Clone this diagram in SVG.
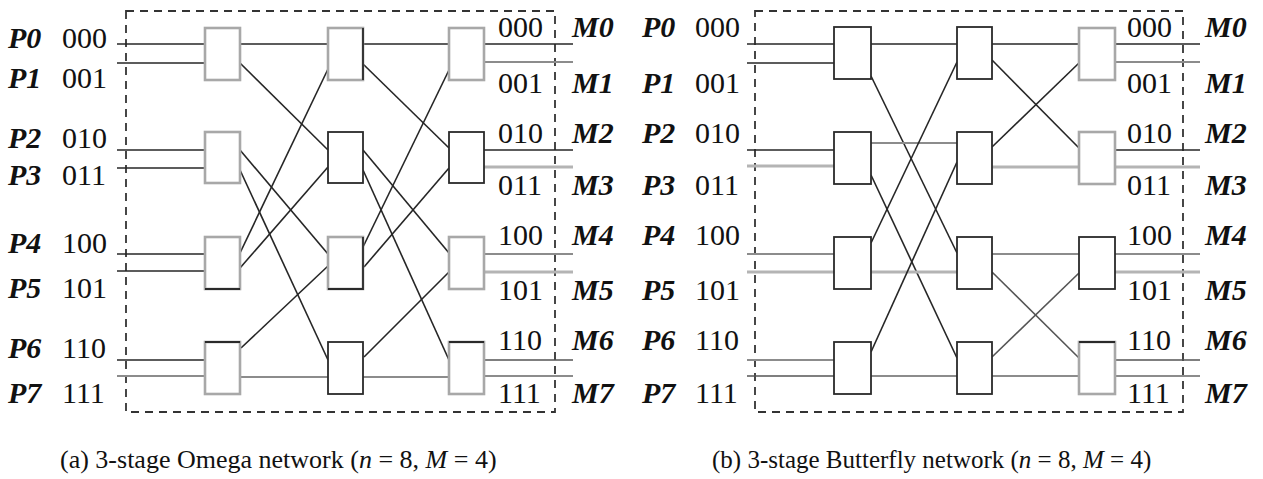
<svg xmlns="http://www.w3.org/2000/svg" width="1263" height="479" viewBox="0 0 1263 479">
  <style>
    .frame { fill: none; stroke: #333; stroke-width: 1.8; stroke-dasharray: 8 6; }
    .w  { stroke: #262626; stroke-width: 1.6; fill: none; }
    .wd { stroke: #555; stroke-width: 1.6; fill: none; }
    .g1 { stroke: #8c8c8c; stroke-width: 1.9; fill: none; }
    .g2 { stroke: #b4b4b4; stroke-width: 3; fill: none; }
    .sw  { fill: #fff; stroke: #2a2a2a; stroke-width: 1.8; }
    .swg { fill: #fff; stroke: #a8a8a8; stroke-width: 2.6; }
    .edge { stroke: #2a2a2a; stroke-width: 1.8; }
    .lbl { font-family: "Liberation Serif", "Times New Roman", serif; font-size: 30px; fill: #111; }
    .id  { font-weight: bold; font-style: italic; }
    .cap { font-family: "Liberation Serif", "Times New Roman", serif; font-size: 26px; fill: #111; }
    .capb { font-size: 25px; }
  </style>

  <!-- (a) Omega network -->
  <g id="omega">
    <rect id="omega-frame" class="frame" x="126" y="11" width="429" height="401"/>

    <g id="omega-connectors">
      <!-- processor inputs -->
      <line class="w"  x1="117" y1="44"  x2="205" y2="44"/>
      <line class="w"  x1="117" y1="63"  x2="205" y2="63"/>
      <line class="w"  x1="117" y1="150" x2="205" y2="150"/>
      <line class="w"  x1="117" y1="168" x2="205" y2="168"/>
      <line class="w"  x1="117" y1="254" x2="205" y2="254"/>
      <line class="w"  x1="117" y1="271" x2="205" y2="271"/>
      <line class="w"  x1="117" y1="360" x2="205" y2="360"/>
      <line class="g1" x1="117" y1="376" x2="205" y2="376"/>
      <!-- shuffle: stage 1 to stage 2 -->
      <line class="w"  x1="240" y1="44"  x2="328" y2="44"/>
      <line class="w"  x1="240" y1="63"  x2="328" y2="150"/>
      <line class="w"  x1="240" y1="150" x2="328" y2="254"/>
      <line class="w"  x1="240" y1="170" x2="328" y2="360"/>
      <line class="w"  x1="240" y1="253" x2="328" y2="69"/>
      <line class="w"  x1="240" y1="268" x2="328" y2="167"/>
      <line class="w"  x1="241" y1="348" x2="328" y2="266"/>
      <line class="g1" x1="240" y1="377" x2="328" y2="377"/>
      <!-- shuffle: stage 2 to stage 3 -->
      <line class="w"  x1="363" y1="44"  x2="449" y2="44"/>
      <line class="w"  x1="363" y1="64"  x2="449" y2="148"/>
      <line class="w"  x1="363" y1="150" x2="449" y2="253"/>
      <line class="w"  x1="363" y1="170" x2="449" y2="360"/>
      <line class="w"  x1="363" y1="247" x2="449" y2="70"/>
      <line class="w"  x1="364" y1="267" x2="449" y2="168"/>
      <line class="w"  x1="364" y1="357" x2="449" y2="272"/>
      <line class="g1" x1="363" y1="377" x2="449" y2="377"/>
      <!-- memory outputs -->
      <line class="w"  x1="484" y1="44"  x2="573" y2="44"/>
      <line class="g1" x1="484" y1="62"  x2="573" y2="62"/>
      <line class="w"  x1="484" y1="150" x2="573" y2="150"/>
      <line class="g2" x1="484" y1="167" x2="573" y2="167"/>
      <line class="g1" x1="484" y1="254" x2="573" y2="254"/>
      <line class="g2" x1="484" y1="272" x2="573" y2="272"/>
      <line class="wd" x1="484" y1="360" x2="573" y2="360"/>
      <line class="g1" x1="484" y1="376" x2="573" y2="376"/>
    </g>

    <!-- stage 1 -->
    <g id="omega-s1-0"><rect class="swg" x="205" y="28" width="35" height="52"/></g>
    <g id="omega-s1-1"><rect class="swg" x="205" y="132" width="35" height="51"/></g>
    <g id="omega-s1-2"><rect class="swg" x="205" y="237" width="35" height="52"/><line class="edge" x1="205" y1="289" x2="240" y2="289"/></g>
    <g id="omega-s1-3"><rect class="swg" x="205" y="342" width="35" height="52"/><line class="edge" x1="205" y1="342" x2="240" y2="342"/></g>
    <!-- stage 2 -->
    <g id="omega-s2-0"><rect class="swg" x="328" y="28" width="35" height="52"/><line class="edge" x1="363" y1="28" x2="363" y2="80"/></g>
    <g id="omega-s2-1"><rect class="sw" x="328" y="132" width="35" height="51"/></g>
    <g id="omega-s2-2"><rect class="swg" x="328" y="237" width="35" height="52"/><polyline class="edge" fill="none" points="363,237 363,289 328,289"/></g>
    <g id="omega-s2-3"><rect class="sw" x="328" y="342" width="35" height="52"/></g>
    <!-- stage 3 -->
    <g id="omega-s3-0"><rect class="swg" x="449" y="28" width="35" height="52"/></g>
    <g id="omega-s3-1"><rect class="sw" x="449" y="132" width="35" height="51"/></g>
    <g id="omega-s3-2"><rect class="swg" x="449" y="237" width="35" height="52"/></g>
    <g id="omega-s3-3"><rect class="swg" x="449" y="342" width="35" height="52"/><line class="edge" x1="449" y1="342" x2="484" y2="342"/></g>

    <g id="omega-inputs" class="lbl">
      <text x="8" y="48"><tspan class="id">P0</tspan><tspan x="62">000</tspan></text>
      <text x="8" y="88"><tspan class="id">P1</tspan><tspan x="62">001</tspan></text>
      <text x="8" y="148"><tspan class="id">P2</tspan><tspan x="62">010</tspan></text>
      <text x="8" y="185"><tspan class="id">P3</tspan><tspan x="62">011</tspan></text>
      <text x="8" y="253"><tspan class="id">P4</tspan><tspan x="62">100</tspan></text>
      <text x="8" y="298"><tspan class="id">P5</tspan><tspan x="62">101</tspan></text>
      <text x="8" y="358"><tspan class="id">P6</tspan><tspan x="62">110</tspan></text>
      <text x="8" y="403"><tspan class="id">P7</tspan><tspan x="62">111</tspan></text>
    </g>
    <g id="omega-outputs" class="lbl">
      <text x="498" y="37">000<tspan class="id" x="572">M0</tspan></text>
      <text x="498" y="93">001<tspan class="id" x="572">M1</tspan></text>
      <text x="498" y="143">010<tspan class="id" x="572">M2</tspan></text>
      <text x="498" y="195">011<tspan class="id" x="572">M3</tspan></text>
      <text x="498" y="245">100<tspan class="id" x="572">M4</tspan></text>
      <text x="498" y="300">101<tspan class="id" x="572">M5</tspan></text>
      <text x="498" y="350">110<tspan class="id" x="572">M6</tspan></text>
      <text x="498" y="403">111<tspan class="id" x="572">M7</tspan></text>
    </g>
    <text id="omega-caption" class="cap" x="60" y="468">(a) 3-stage Omega network (<tspan font-style="italic">n</tspan> = 8, <tspan font-style="italic">M</tspan> = 4)</text>
  </g>

  <!-- (b) Butterfly network -->
  <g id="butterfly">
    <rect id="butterfly-frame" class="frame" x="755" y="11" width="428" height="401"/>

    <g id="butterfly-connectors">
      <!-- processor inputs -->
      <line class="w"  x1="747" y1="44"  x2="834" y2="44"/>
      <line class="w"  x1="747" y1="63"  x2="834" y2="63"/>
      <line class="w"  x1="747" y1="150" x2="834" y2="150"/>
      <line class="g2" x1="747" y1="166" x2="834" y2="166"/>
      <line class="g1" x1="747" y1="254" x2="834" y2="254"/>
      <line class="g2" x1="747" y1="272" x2="834" y2="272"/>
      <line class="g1" x1="747" y1="360" x2="834" y2="360"/>
      <line class="wd" x1="747" y1="376" x2="834" y2="376"/>
      <!-- butterfly: stage 1 to stage 2 -->
      <line class="w"  x1="871" y1="44"  x2="957" y2="44"/>
      <line class="w"  x1="871" y1="76"  x2="957" y2="253"/>
      <line class="g1" x1="871" y1="143" x2="957" y2="143"/>
      <line class="w"  x1="871" y1="175" x2="957" y2="358"/>
      <line class="w"  x1="871" y1="243" x2="957" y2="62"/>
      <line class="g2" x1="871" y1="272" x2="957" y2="272"/>
      <line class="w"  x1="871" y1="352" x2="957" y2="162"/>
      <line class="g1" x1="871" y1="376" x2="957" y2="376"/>
      <!-- butterfly: stage 2 to stage 3 -->
      <line class="w"  x1="992" y1="44"  x2="1079" y2="44"/>
      <line class="w"  x1="992" y1="60"  x2="1079" y2="148"/>
      <line class="w"  x1="992" y1="147" x2="1079" y2="63"/>
      <line class="g2" x1="992" y1="167" x2="1079" y2="167"/>
      <line class="g1" x1="992" y1="254" x2="1079" y2="254"/>
      <line class="wd" x1="992" y1="272" x2="1079" y2="358"/>
      <line class="wd" x1="992" y1="357" x2="1079" y2="273"/>
      <line class="g1" x1="992" y1="376" x2="1079" y2="376"/>
      <!-- memory outputs -->
      <line class="w"  x1="1115" y1="44"  x2="1200" y2="44"/>
      <line class="g1" x1="1115" y1="62"  x2="1200" y2="62"/>
      <line class="w"  x1="1115" y1="150" x2="1200" y2="150"/>
      <line class="g2" x1="1115" y1="167" x2="1200" y2="167"/>
      <line class="g1" x1="1115" y1="254" x2="1200" y2="254"/>
      <line class="g2" x1="1115" y1="272" x2="1200" y2="272"/>
      <line class="wd" x1="1115" y1="360" x2="1200" y2="360"/>
      <line class="g1" x1="1115" y1="376" x2="1200" y2="376"/>
    </g>

    <!-- stage 1 -->
    <g id="butterfly-s1-0"><rect class="sw" x="834" y="27" width="37" height="52"/></g>
    <g id="butterfly-s1-1"><rect class="sw" x="834" y="132" width="37" height="52"/></g>
    <g id="butterfly-s1-2"><rect class="sw" x="834" y="237" width="37" height="52"/></g>
    <g id="butterfly-s1-3"><rect class="sw" x="834" y="342" width="37" height="52"/></g>
    <!-- stage 2 -->
    <g id="butterfly-s2-0"><rect class="sw" x="957" y="27" width="35" height="52"/></g>
    <g id="butterfly-s2-1"><rect class="sw" x="957" y="132" width="35" height="52"/></g>
    <g id="butterfly-s2-2"><rect class="sw" x="957" y="237" width="35" height="52"/></g>
    <g id="butterfly-s2-3"><rect class="sw" x="957" y="342" width="35" height="52"/></g>
    <!-- stage 3 -->
    <g id="butterfly-s3-0"><rect class="swg" x="1079" y="28" width="36" height="52"/></g>
    <g id="butterfly-s3-1"><rect class="swg" x="1079" y="132" width="36" height="52"/></g>
    <g id="butterfly-s3-2"><rect class="sw" x="1079" y="237" width="36" height="52"/></g>
    <g id="butterfly-s3-3"><rect class="swg" x="1079" y="342" width="36" height="52"/><line class="edge" x1="1079" y1="342" x2="1115" y2="342"/></g>

    <g id="butterfly-inputs" class="lbl">
      <text x="642" y="37"><tspan class="id">P0</tspan><tspan x="695">000</tspan></text>
      <text x="642" y="93"><tspan class="id">P1</tspan><tspan x="695">001</tspan></text>
      <text x="642" y="143"><tspan class="id">P2</tspan><tspan x="695">010</tspan></text>
      <text x="642" y="195"><tspan class="id">P3</tspan><tspan x="695">011</tspan></text>
      <text x="642" y="245"><tspan class="id">P4</tspan><tspan x="695">100</tspan></text>
      <text x="642" y="300"><tspan class="id">P5</tspan><tspan x="695">101</tspan></text>
      <text x="642" y="350"><tspan class="id">P6</tspan><tspan x="695">110</tspan></text>
      <text x="642" y="403"><tspan class="id">P7</tspan><tspan x="695">111</tspan></text>
    </g>
    <g id="butterfly-outputs" class="lbl">
      <text x="1127" y="37">000<tspan class="id" x="1205">M0</tspan></text>
      <text x="1127" y="93">001<tspan class="id" x="1205">M1</tspan></text>
      <text x="1127" y="143">010<tspan class="id" x="1205">M2</tspan></text>
      <text x="1127" y="195">011<tspan class="id" x="1205">M3</tspan></text>
      <text x="1127" y="245">100<tspan class="id" x="1205">M4</tspan></text>
      <text x="1127" y="300">101<tspan class="id" x="1205">M5</tspan></text>
      <text x="1127" y="350">110<tspan class="id" x="1205">M6</tspan></text>
      <text x="1127" y="403">111<tspan class="id" x="1205">M7</tspan></text>
    </g>
    <text id="butterfly-caption" class="cap capb" x="712" y="468">(b) 3-stage Butterfly network (<tspan font-style="italic">n</tspan> = 8, <tspan font-style="italic">M</tspan> = 4)</text>
  </g>
</svg>
